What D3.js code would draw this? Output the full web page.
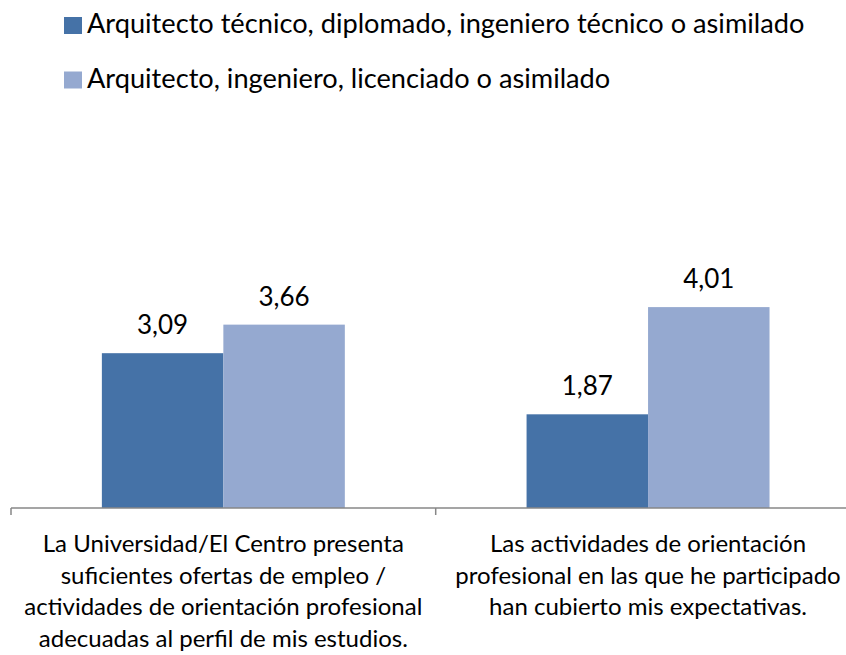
<!DOCTYPE html>
<html>
<head>
<meta charset="utf-8">
<script src="https://cdn.jsdelivr.net/npm/d3@7"></script>
<style>
  html, body { margin: 0; padding: 0; background: #fff; }
  svg { display: block; }
  text { font-family: Lato, "Open Sans", sans-serif; fill: #000; }
</style>
</head>
<body>
<svg id="chart" width="846" height="655"></svg>
<script>
const categories = ["cat1", "cat2"];
const categoryLines = [
  ["La Universidad/El Centro presenta", "suficientes ofertas de empleo /", "actividades de orientación profesional", "adecuadas al perfil de mis estudios."],
  ["Las actividades de orientación", "profesional en las que he participado", "han cubierto mis expectativas."]
];
const seriesNames = [
  "Arquitecto técnico, diplomado, ingeniero técnico o asimilado",
  "Arquitecto, ingeniero, licenciado o asimilado"
];
const valuesTecnico = [3.09, 1.87];
const valuesLicenciado = [3.66, 4.01];
const seriesColors = ["#4572A7", "#95A9D0"];

const seriesValues = [valuesTecnico, valuesLicenciado];
const svg = d3.select("#chart");

const x0 = d3.scaleBand().domain(categories).range([11, 860.4]).paddingInner(0).paddingOuter(0);
const x1 = d3.scaleBand().domain(seriesNames).range([0, x0.bandwidth()]).paddingInner(0).paddingOuter(0.748);
const y = d3.scaleLinear().domain([0, 5]).range([508, 257.5]);

const loc = d3.formatLocale({decimal: ",", thousands: ".", grouping: [3], currency: ["", "€"]});
const fmt = loc.format(".2f");

// bars
const groups = svg.append("g").selectAll("g")
  .data(categories).join("g")
  .attr("transform", d => `translate(${x0(d)},0)`);

groups.selectAll("rect")
  .data((c, ci) => seriesNames.map((s, si) => ({s, si, v: seriesValues[si][ci]})))
  .join("rect")
  .attr("x", d => x1(d.s))
  .attr("width", x1.bandwidth())
  .attr("y", d => y(d.v))
  .attr("height", d => y(0) - y(d.v))
  .attr("fill", d => seriesColors[d.si]);

groups.selectAll("text.val")
  .data((c, ci) => seriesNames.map((s, si) => ({s, si, v: seriesValues[si][ci]})))
  .join("text")
  .attr("class", "val")
  .attr("x", d => x1(d.s) + x1.bandwidth() / 2)
  .attr("y", d => y(d.v) - 19)
  .attr("text-anchor", "middle")
  .style("font-size", "26px")
  .text(d => fmt(d.v));

// axis
const axisY = y(0);
const bounds = categories.map(c => x0(c)).concat([x0.range()[1]]);
svg.append("line")
  .attr("x1", x0.range()[0]).attr("x2", 846)
  .attr("y1", axisY).attr("y2", axisY)
  .attr("stroke", "#878787").attr("stroke-width", 1.5);
svg.append("g").selectAll("line")
  .data(bounds).join("line")
  .attr("x1", d => d).attr("x2", d => d)
  .attr("y1", axisY).attr("y2", axisY + 7)
  .attr("stroke", "#878787").attr("stroke-width", 1.5);

// category labels
categories.forEach((c, ci) => {
  const cx = x0(c) + x0.bandwidth() / 2;
  const t = svg.append("text")
    .attr("text-anchor", "middle")
    .style("font-size", "24px");
  categoryLines[ci].forEach((line, li) => {
    t.append("tspan").attr("x", cx).attr("y", 552 + li * 31.7).text(line);
  });
});

// legend
const legend = svg.append("g").selectAll("g")
  .data(seriesNames).join("g")
  .attr("transform", (d, i) => `translate(64,${17 + i * 54.5})`);
legend.append("rect")
  .attr("width", 18).attr("height", 17)
  .attr("fill", (d, i) => seriesColors[i]);
legend.append("text")
  .attr("x", 23).attr("y", 16)
  .style("font-size", "27.2px")
  .text(d => d);
</script>
</body>
</html>
